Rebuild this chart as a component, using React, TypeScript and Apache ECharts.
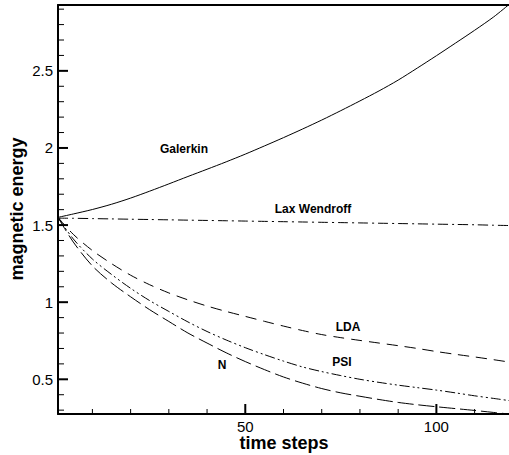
import React, { useEffect, useRef } from "react";
import * as echarts from "echarts";

const steps = [1, 5, 10, 15, 20, 25, 30, 35, 40, 45, 50, 55, 60, 65, 70, 75, 80, 85, 90, 95, 100, 105, 110, 115, 119];
const galerkin = [1.55, 1.572, 1.601, 1.635, 1.675, 1.72, 1.767, 1.815, 1.862, 1.91, 1.96, 2.013, 2.067, 2.123, 2.181, 2.242, 2.305, 2.37, 2.44, 2.518, 2.598, 2.68, 2.763, 2.85, 2.93];
const laxWendroff = [1.545, 1.544, 1.542, 1.54, 1.538, 1.536, 1.534, 1.532, 1.53, 1.528, 1.526, 1.524, 1.522, 1.52, 1.518, 1.516, 1.514, 1.512, 1.51, 1.508, 1.506, 1.504, 1.502, 1.499, 1.497];
const lda = [1.55, 1.44, 1.335, 1.25, 1.175, 1.113, 1.06, 1.015, 0.975, 0.94, 0.908, 0.876, 0.845, 0.816, 0.79, 0.77, 0.752, 0.735, 0.718, 0.7, 0.68, 0.662, 0.645, 0.627, 0.612];
const psi = [1.55, 1.41, 1.28, 1.18, 1.09, 1.01, 0.94, 0.872, 0.81, 0.755, 0.705, 0.66, 0.618, 0.58, 0.55, 0.524, 0.5, 0.48, 0.462, 0.446, 0.43, 0.412, 0.393, 0.376, 0.362];
const nScheme = [1.55, 1.39, 1.235, 1.125, 1.035, 0.951, 0.875, 0.8, 0.735, 0.672, 0.615, 0.563, 0.515, 0.475, 0.44, 0.412, 0.39, 0.369, 0.35, 0.335, 0.322, 0.31, 0.298, 0.285, 0.275];

const xMajor = [50, 100];
const xMinor = [10, 20, 30, 40, 60, 70, 80, 90, 110];
const yMajor = [0.5, 1, 1.5, 2, 2.5];
const yMinor = [0.3, 0.4, 0.6, 0.7, 0.8, 0.9, 1.1, 1.2, 1.3, 1.4, 1.6, 1.7, 1.8, 1.9, 2.1, 2.2, 2.3, 2.4, 2.6, 2.7, 2.8, 2.9];

const X_MIN = 1;
const X_MAX = 119;
const Y_MIN = 0.275;
const Y_MAX = 2.927;

const FONT = "Liberation Sans";

function pairs(vals: number[]) {
  return steps.map((s, i) => [s, vals[i]]);
}

export default function App() {
  const ref = useRef<HTMLDivElement>(null);
  useEffect(() => {
    if (!ref.current) return;
    const chart = echarts.init(ref.current, null, { renderer: "svg" });
    const lineSeries = (name: string, vals: number[], type: any) => ({
      name,
      type: "line",
      data: pairs(vals),
      smooth: 0.3,
      symbol: "none",
      lineStyle: { color: "#000", width: 1, type },
      silent: true,
    });
    const tickSeries = (vals: number[], dir: "x" | "y", len: number, width: number) => ({
      type: "custom",
      silent: true,
      clip: false,
      data: vals.map((v) => (dir === "y" ? [X_MIN, v] : [v, Y_MIN])),
      renderItem: (_p: any, api: any) => {
        const pt = api.coord([api.value(0), api.value(1)]);
        const shape =
          dir === "y"
            ? { x1: pt[0], y1: pt[1], x2: pt[0] + len, y2: pt[1] }
            : { x1: pt[0], y1: pt[1], x2: pt[0], y2: pt[1] - len };
        return { type: "line", shape, style: { stroke: "#000", lineWidth: width } };
      },
      z: 5,
    });
    const label = (text: string, x: number, y: number, size = 12, rotation = 0) => ({
      type: "text",
      x,
      y,
      rotation,
      style: {
        text,
        font: `bold ${size}px "${FONT}"`,
        fill: "#000",
        align: "center",
        verticalAlign: "middle",
      },
    });
    chart.setOption({
      animation: false,
      backgroundColor: "#fff",
      grid: { left: 58, top: 5, right: 0, bottom: 41, containLabel: false, outerBoundsMode: "none" },
      xAxis: [
        {
          type: "value",
          min: X_MIN,
          max: X_MAX,
          position: "bottom",
          axisLine: { show: true, lineStyle: { color: "#000", width: 2 } },
          axisTick: { show: false },
          axisLabel: { show: true, customValues: xMajor, color: "#000", fontSize: 15, fontFamily: FONT, margin: 5 },
          splitLine: { show: false },
        },
        {
          type: "value",
          min: X_MIN,
          max: X_MAX,
          position: "top",
          axisLine: { show: true, lineStyle: { color: "#000", width: 2 } },
          axisTick: { show: false },
          axisLabel: { show: false },
          splitLine: { show: false },
        },
      ],
      yAxis: [
        {
          type: "value",
          min: Y_MIN,
          max: Y_MAX,
          position: "left",
          axisLine: { show: true, lineStyle: { color: "#000", width: 2 } },
          axisTick: { show: false },
          axisLabel: { show: true, customValues: yMajor, color: "#000", fontSize: 15, fontFamily: FONT, margin: 5 },
          splitLine: { show: false },
        },
      ],
      series: [
        lineSeries("Galerkin", galerkin, "solid"),
        lineSeries("Lax Wendroff", laxWendroff, [10, 4, 2, 4]),
        lineSeries("LDA", lda, [11, 7]),
        lineSeries("PSI", psi, [10, 3, 2, 3, 2, 3]),
        lineSeries("N", nScheme, [16, 5]),
        tickSeries(yMajor, "y", 10, 2),
        tickSeries(yMinor, "y", 6, 1),
        tickSeries(xMajor, "x", 10, 2),
        tickSeries(xMinor, "x", 5, 1),
      ],
      graphic: [
        label("magnetic energy", 17, 209, 18, Math.PI / 2),
        label("time steps", 284, 443, 18),
        label("Galerkin", 184, 149),
        label("Lax Wendroff", 313, 209),
        label("LDA", 348, 327),
        label("PSI", 342, 362),
        label("N", 222, 365),
      ],
    });
    return () => chart.dispose();
  }, []);
  return <div ref={ref} style={{ position: "fixed", left: 0, top: 0, width: 509, height: 455 }} />;
}
